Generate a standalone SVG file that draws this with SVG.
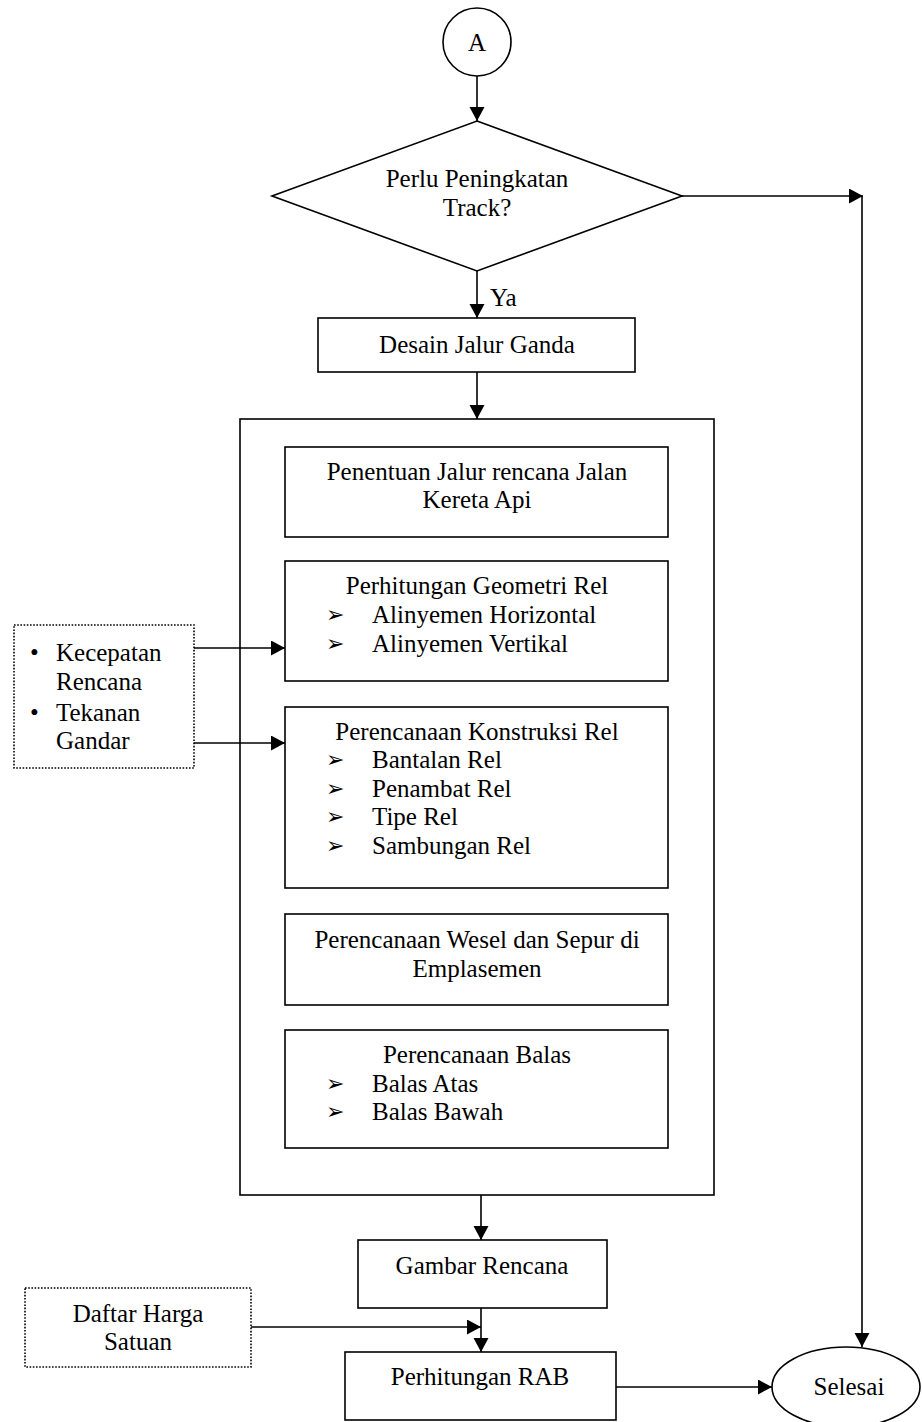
<svg xmlns="http://www.w3.org/2000/svg" width="922" height="1422" viewBox="0 0 922 1422">
<defs>
<style>
text{font-family:"Liberation Serif","Times New Roman",serif;font-size:25px;fill:#000}
.c{text-anchor:middle}
.b{font-family:"DejaVu Sans",sans-serif;font-size:22px}
.shape{fill:#fff;stroke:#000;stroke-width:1.6}
.dot{fill:#fff;stroke:#000;stroke-width:1.6;stroke-dasharray:1.6 1.6}
.ln{fill:none;stroke:#000;stroke-width:1.6}
</style>
<marker id="ah" markerUnits="userSpaceOnUse" markerWidth="15" markerHeight="16" refX="14" refY="7.5" orient="auto">
<path d="M0,0 L14,7.5 L0,15 z" fill="#000"/>
</marker>
</defs>
<rect width="922" height="1422" fill="#fff"/>

<g id="nodeA">
<circle class="shape" cx="477" cy="42" r="34"/>
<text class="c" x="477" y="51">A</text>
</g>

<g id="decision">
<polygon class="shape" points="477,121 682,196 477,271 272,196"/>
<text class="c" x="477" y="187">Perlu Peningkatan</text>
<text class="c" x="477" y="216">Track?</text>
</g>

<g id="desain">
<rect class="shape" x="318" y="318" width="317" height="54"/>
<text class="c" x="477" y="353">Desain Jalur Ganda</text>
</g>

<g id="container">
<rect class="shape" x="240" y="419" width="474" height="776"/>
</g>

<g id="penentuan">
<rect class="shape" x="285" y="447" width="383" height="90"/>
<text class="c" x="477" y="480">Penentuan Jalur rencana Jalan</text>
<text class="c" x="477" y="508">Kereta Api</text>
</g>

<g id="geometri">
<rect class="shape" x="285" y="561" width="383" height="120"/>
<text class="c" x="477" y="594">Perhitungan Geometri Rel</text>
<text class="b" x="326" y="622">➢</text><text x="372" y="623">Alinyemen Horizontal</text>
<text class="b" x="326" y="651">➢</text><text x="372" y="652">Alinyemen Vertikal</text>
</g>

<g id="konstruksi">
<rect class="shape" x="285" y="707" width="383" height="181"/>
<text class="c" x="477" y="740">Perencanaan Konstruksi Rel</text>
<text class="b" x="326" y="767">➢</text><text x="372" y="768">Bantalan Rel</text>
<text class="b" x="326" y="796">➢</text><text x="372" y="797">Penambat Rel</text>
<text class="b" x="326" y="824">➢</text><text x="372" y="825">Tipe Rel</text>
<text class="b" x="326" y="853">➢</text><text x="372" y="854">Sambungan Rel</text>
</g>

<g id="wesel">
<rect class="shape" x="285" y="914" width="383" height="91"/>
<text class="c" x="477" y="948">Perencanaan Wesel dan Sepur di</text>
<text class="c" x="477" y="977">Emplasemen</text>
</g>

<g id="balas">
<rect class="shape" x="285" y="1030" width="383" height="118"/>
<text class="c" x="477" y="1063">Perencanaan Balas</text>
<text class="b" x="326" y="1091">➢</text><text x="372" y="1092">Balas Atas</text>
<text class="b" x="326" y="1119">➢</text><text x="372" y="1120">Balas Bawah</text>
</g>

<g id="input1">
<rect class="dot" x="14" y="625" width="180" height="143"/>
<text x="30" y="661">•</text><text x="56" y="661">Kecepatan</text>
<text x="56" y="690">Rencana</text>
<text x="30" y="721">•</text><text x="56" y="721">Tekanan</text>
<text x="56" y="749">Gandar</text>
</g>

<g id="gambar">
<rect class="shape" x="358" y="1240" width="249" height="68"/>
<text class="c" x="482" y="1274">Gambar Rencana</text>
</g>

<g id="daftar">
<rect class="dot" x="25" y="1288" width="226" height="79"/>
<text class="c" x="138" y="1322">Daftar Harga</text>
<text class="c" x="138" y="1350">Satuan</text>
</g>

<g id="rab">
<rect class="shape" x="345" y="1352" width="271" height="68"/>
<text class="c" x="480" y="1385">Perhitungan RAB</text>
</g>

<g id="selesai">
<ellipse class="shape" cx="846" cy="1387" rx="74" ry="40"/>
<text class="c" x="849" y="1395">Selesai</text>
</g>

<g id="connectors">
<line class="ln" x1="477" y1="76" x2="477" y2="121" marker-end="url(#ah)"/>
<line class="ln" x1="477" y1="271" x2="477" y2="318" marker-end="url(#ah)"/>
<line class="ln" x1="477" y1="372" x2="477" y2="419" marker-end="url(#ah)"/>
<line class="ln" x1="682" y1="196" x2="863" y2="196" marker-end="url(#ah)"/>
<line class="ln" x1="862" y1="196" x2="862" y2="1347" marker-end="url(#ah)"/>
<line class="ln" x1="194" y1="648" x2="285" y2="648" marker-end="url(#ah)"/>
<line class="ln" x1="194" y1="743" x2="285" y2="743" marker-end="url(#ah)"/>
<line class="ln" x1="481" y1="1195" x2="481" y2="1240" marker-end="url(#ah)"/>
<line class="ln" x1="481" y1="1308" x2="481" y2="1352" marker-end="url(#ah)"/>
<line class="ln" x1="251" y1="1327" x2="481" y2="1327" marker-end="url(#ah)"/>
<line class="ln" x1="616" y1="1387" x2="772" y2="1387" marker-end="url(#ah)"/>
<text x="490" y="306">Ya</text>
</g>
</svg>
